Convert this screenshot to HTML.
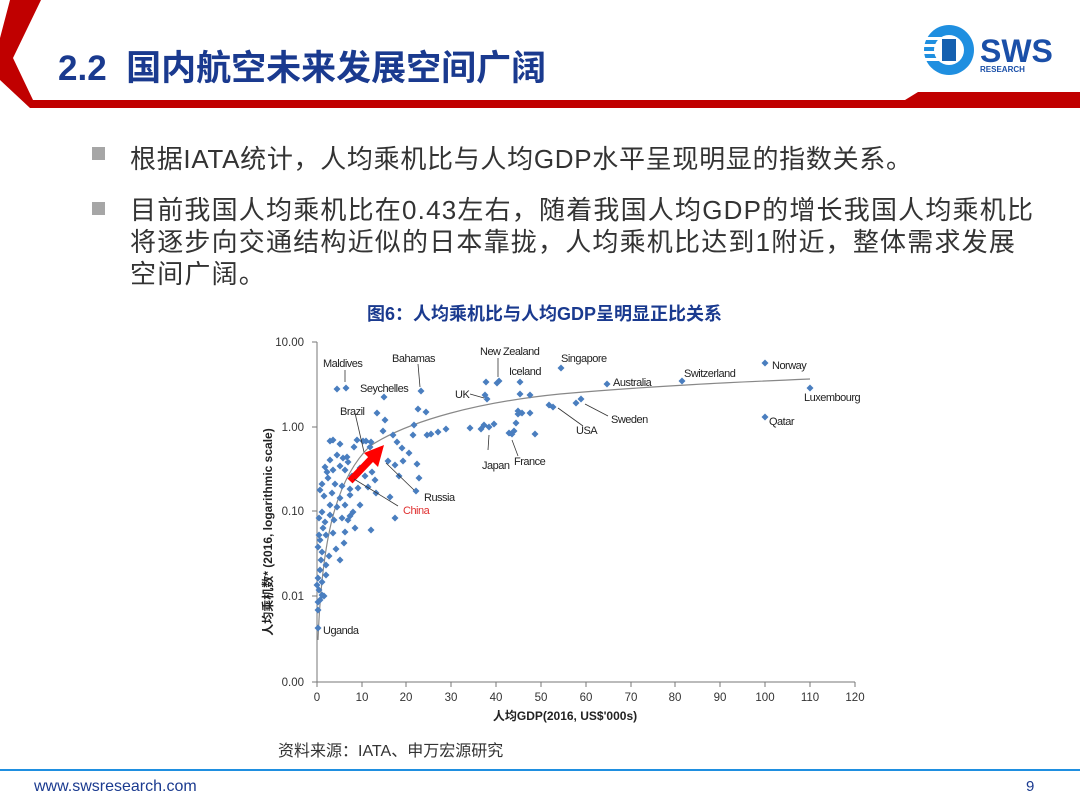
<!DOCTYPE html>
<html><head><meta charset="utf-8"><style>
body{margin:0;width:1080px;height:810px;background:#fff;position:relative;overflow:hidden;font-family:"Liberation Sans","Noto Sans CJK SC",sans-serif}
.t{position:absolute;white-space:nowrap}
</style></head><body>
<svg width="1080" height="810" style="position:absolute;left:0;top:0">
<polygon points="10,0 41,0 13,58 33,100 905,100 918,92 1080,92 1080,108 30,108 0,80 0,38" fill="#c00000"/>
<g transform="translate(924,25)">
<circle cx="25" cy="25" r="25" fill="#1f8fe0"/>
<circle cx="25" cy="25" r="15" fill="#fff"/>
<rect x="0" y="12" width="24" height="3" fill="#fff"/><rect x="0" y="19" width="24" height="3" fill="#fff"/><rect x="0" y="26" width="24" height="3" fill="#fff"/><rect x="0" y="33" width="24" height="3" fill="#fff"/>
<rect x="18" y="14" width="14" height="22" fill="#1560b0"/>
</g>
<text x="980" y="62" font-family="Liberation Sans" font-weight="bold" font-size="32" fill="#1a4fa8">SWS</text>
<text x="980" y="72" font-family="Liberation Sans" font-weight="bold" font-size="8" fill="#1a4fa8">RESEARCH</text>
<rect x="92" y="147" width="13" height="13" fill="#a6a6a6"/>
<rect x="92" y="202" width="13" height="13" fill="#a6a6a6"/>
<line x1="0" y1="770" x2="1080" y2="770" stroke="#1f8fe0" stroke-width="2"/>
<g stroke="#777" stroke-width="1" fill="none">
<line x1="317" y1="342" x2="317" y2="682"/>
<line x1="317" y1="682" x2="855" y2="682"/>
<line x1="312" y1="342" x2="317" y2="342"/><line x1="312" y1="427" x2="317" y2="427"/><line x1="312" y1="511" x2="317" y2="511"/><line x1="312" y1="596" x2="317" y2="596"/><line x1="312" y1="682" x2="317" y2="682"/>
<path d="M317,682v5M362,682v5M406,682v5M451,682v5M496,682v5M541,682v5M586,682v5M631,682v5M675,682v5M720,682v5M765,682v5M810,682v5M855,682v5"/>
</g>
<path d="M318,640 C322,540 335,480 370,446 C410,420 480,402 560,394 C650,386 740,382 810,379" stroke="#888" stroke-width="1.2" fill="none"/>
<g font-family="Liberation Sans" font-size="11.5" fill="#333" text-anchor="end">
<text x="304" y="346">10.00</text><text x="304" y="431">1.00</text><text x="304" y="515">0.10</text><text x="304" y="600">0.01</text><text x="304" y="686">0.00</text>
</g>
<g font-family="Liberation Sans" font-size="11.5" fill="#333" text-anchor="middle">
<text x="317" y="701">0</text><text x="362" y="701">10</text><text x="406" y="701">20</text><text x="451" y="701">30</text><text x="496" y="701">40</text><text x="541" y="701">50</text><text x="586" y="701">60</text><text x="631" y="701">70</text><text x="675" y="701">80</text><text x="720" y="701">90</text><text x="765" y="701">100</text><text x="810" y="701">110</text><text x="855" y="701">120</text>
</g>
<text x="565" y="720" font-family="Liberation Sans,Noto Sans CJK SC,sans-serif" font-size="12" font-weight="bold" fill="#222" text-anchor="middle">人均GDP(2016, US$'000s)</text>
<text transform="translate(272,532) rotate(-90)" font-family="Liberation Sans,Noto Sans CJK SC,sans-serif" font-size="12" font-weight="bold" fill="#222" text-anchor="middle">人均乘机数* (2016, logarithmic scale)</text>
<g id="pts" fill="#4a7ebf"></g>
<line x1="350" y1="481" x2="372" y2="458" stroke="#f00" stroke-width="7"/>
<polygon points="384,445 364,453 378,467" fill="#f00"/>
<g stroke="#333" stroke-width="0.8" fill="none">
<line x1="345" y1="370" x2="345" y2="382"/><line x1="418" y1="364" x2="420" y2="387"/><line x1="470" y1="394" x2="484" y2="398"/><line x1="498" y1="358" x2="498" y2="377"/>
<line x1="355" y1="413" x2="364" y2="452"/><line x1="414" y1="490" x2="386" y2="463"/><line x1="398" y1="506" x2="354" y2="479"/>
<line x1="488" y1="450" x2="489" y2="435"/><line x1="518" y1="456" x2="512" y2="440"/><line x1="583" y1="426" x2="558" y2="408"/><line x1="608" y1="416" x2="585" y2="404"/>
</g>
<g font-family="Liberation Sans" font-size="11" fill="#222" letter-spacing="-0.5">
<text x="323" y="367">Maldives</text><text x="392" y="362">Bahamas</text><text x="360" y="392">Seychelles</text><text x="480" y="355">New Zealand</text><text x="509" y="375">Iceland</text><text x="561" y="362">Singapore</text>
<text x="455" y="398">UK</text><text x="340" y="415">Brazil</text><text x="613" y="386">Australia</text><text x="684" y="377">Switzerland</text><text x="772" y="369">Norway</text><text x="804" y="401">Luxembourg</text>
<text x="611" y="423">Sweden</text><text x="576" y="434">USA</text><text x="769" y="425">Qatar</text><text x="482" y="469">Japan</text><text x="514" y="465">France</text><text x="424" y="501">Russia</text><text x="323" y="634">Uganda</text>
</g>
<text x="403" y="514" font-family="Liberation Sans" font-size="11" fill="#e03030" letter-spacing="-0.5">China</text>
</svg>
<div class="t" style="left:58px;top:40px;font-size:35px;color:#1a3a8f;font-weight:bold">2.2&nbsp;&nbsp;国内航空未来发展空间广阔</div>
<div class="t" style="left:130px;top:139px;font-size:26px;color:#333;letter-spacing:0.7px">根据IATA统计，人均乘机比与人均GDP水平呈现明显的指数关系。</div>
<div class="t" style="left:130px;top:194px;font-size:26px;color:#333;line-height:32px;letter-spacing:1.2px">目前我国人均乘机比在0.43左右，随着我国人均GDP的增长我国人均乘机比<br>将逐步向交通结构近似的日本靠拢，人均乘机比达到1附近，整体需求发展<br>空间广阔。</div>
<div class="t" style="left:367px;top:300px;font-size:18px;color:#1a3a8f;font-weight:bold">图6：人均乘机比与人均GDP呈明显正比关系</div>
<div class="t" style="left:278px;top:737px;font-size:16px;color:#333">资料来源：IATA、申万宏源研究</div>
<div class="t" style="left:34px;top:778px;font-size:16px;color:#1a3a8f">www.swsresearch.com</div>
<div class="t" style="left:1026px;top:778px;font-size:15px;color:#1a3a8f">9</div>
<script>
var p=[[337,389],[346,388],[384,397],[421,391],[418,409],[426,412],[414,425],[377,413],[385,420],[413,435],[427,435],[383,431],[393,435],[397,442],[431,434],[438,432],[446,429],[470,428],[481,429],[484,425],[489,427],[494,424],[485,395],[487,399],[486,382],[497,383],[499,381],[520,382],[520,394],[530,395],[518,411],[518,414],[522,413],[530,413],[516,423],[514,431],[509,433],[512,434],[535,434],[549,405],[553,407],[561,368],[576,403],[581,399],[607,384],[682,381],[765,363],[765,417],[810,388],
[330,441],[333,440],[340,444],[347,457],[354,447],[357,440],[363,441],[366,441],[370,447],[371,442],[388,461],[395,465],[399,476],[402,448],[403,461],[409,453],[417,464],[419,478],[416,491],[390,497],[395,518],[371,530],[343,458],[348,462],[337,455],[330,460],[325,467],[327,472],[333,470],[340,466],[345,470],[352,476],[360,468],[365,476],[372,472],[375,480],[368,487],[376,493],[358,488],[350,489],[342,486],[335,484],[328,478],[322,484],[320,490],[324,496],[332,493],[340,498],[350,495],[345,505],[337,507],[330,505],[322,512],[319,518],[325,522],[334,520],[342,518],[350,516],[355,528],[345,532],[333,533],[326,535],[320,540],[318,547],[322,552],[329,556],[336,549],[344,543],[340,560],[326,565],[320,570],[318,578],[322,582],[326,575],[319,590],[322,595],[318,602],[318,610],[320,600],[324,596],[318,628],[321,560],[319,535],[317,585],[323,528],[360,505],[353,512],[348,520],[330,515]];
var s='';p.forEach(function(a){s+='M'+a[0]+','+(a[1]-3.5)+'l3.5,3.5l-3.5,3.5l-3.5,-3.5z'});
var e=document.createElementNS('http://www.w3.org/2000/svg','path');e.setAttribute('d',s);document.getElementById('pts').appendChild(e);
</script>
</body></html>
